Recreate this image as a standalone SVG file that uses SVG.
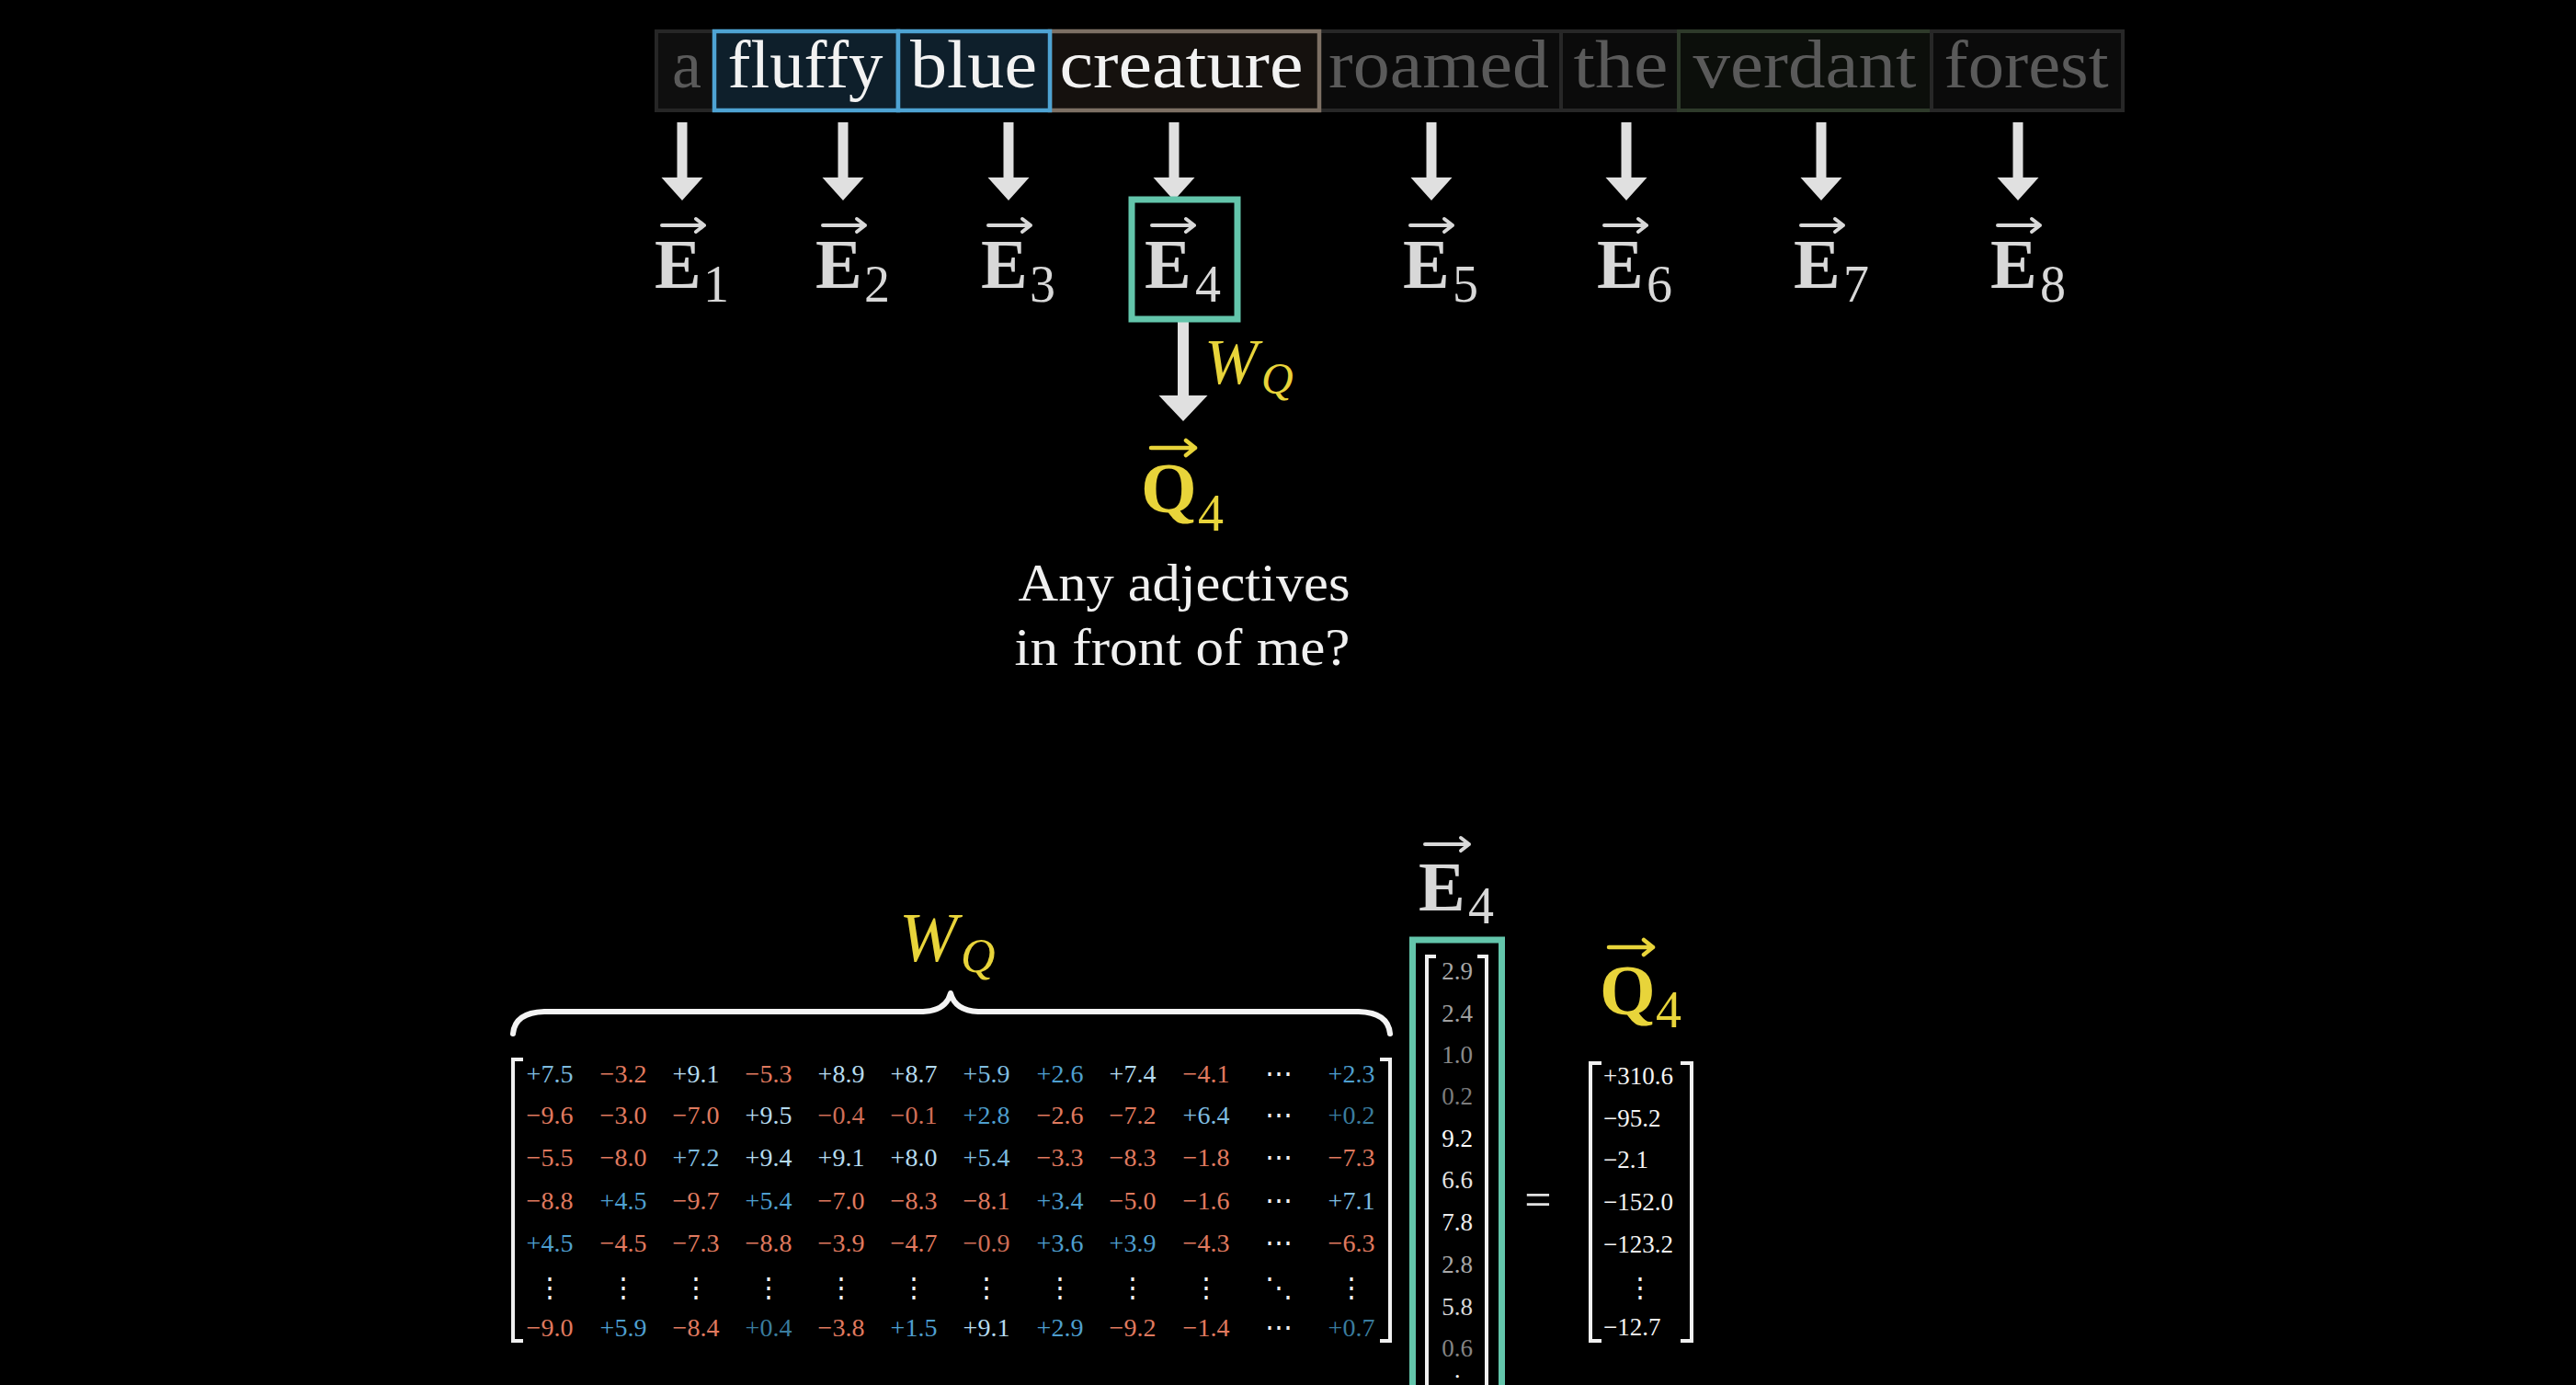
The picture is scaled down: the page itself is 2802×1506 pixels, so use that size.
<svg xmlns="http://www.w3.org/2000/svg" width="2802" height="1506" viewBox="0 0 2802 1506">
<style>
text{font-family:"Liberation Serif","DejaVu Serif",serif}
.w{font-size:74px;text-anchor:middle}
.wg{fill:#5a5a5a}
.ww{fill:#f2f2f2}
.E{font-size:76px;font-weight:bold;fill:#d8d8d8}
.Es{font-size:56px;fill:#d8d8d8}
.va{fill:none;stroke:#d8d8d8;stroke-width:4;stroke-linecap:round;stroke-linejoin:round}
.vy{fill:none;stroke:#e8d43a;stroke-width:4.5;stroke-linecap:round;stroke-linejoin:round}
.Q{font-size:78px;font-weight:bold;fill:#e8d43a}
.Qs{font-size:56px;fill:#e8d43a}
.Wi{font-style:italic;fill:#e8d43a}
.arr{fill:#e0e0e0}
.note{font-size:58px;fill:#f0f0f0;text-anchor:middle}
.n{font-size:28px;text-anchor:middle}
.p{fill:#7fbde0}.pp{fill:#b5dbef}.pl{fill:#4e9fcf}.pd{fill:#3a7c9e}
.m{fill:#e07a5f}.md{fill:#cf6e57}
.dot{font-family:"DejaVu Serif",serif;fill:#f0f0f0;text-anchor:middle}
.br{fill:none;stroke:#f0f0f0;stroke-width:4}
.teal{fill:none;stroke:#63c5ab;stroke-width:7}
.ev{font-size:27px;text-anchor:middle}
.qv{font-size:27px;fill:#f4f4f4}
</style>
<rect width="2802" height="1506" fill="#000"/>

<g id="tokens">
<g id="tok-a"><rect x="714" y="34" width="63" height="86" fill="#0f0f0f" stroke="#262626" stroke-width="4"/><text class="w wg" x="747" y="95" textLength="32" lengthAdjust="spacingAndGlyphs">a</text></g>
<g id="tok-roamed"><rect x="1435" y="34" width="263" height="86" fill="#0b0b0b" stroke="#272727" stroke-width="4"/><text class="w wg" x="1565" y="95" textLength="240" lengthAdjust="spacingAndGlyphs">roamed</text></g>
<g id="tok-the"><rect x="1698" y="34" width="128" height="86" fill="#0b0b0b" stroke="#272727" stroke-width="4"/><text class="w wg" x="1763" y="95" textLength="103" lengthAdjust="spacingAndGlyphs">the</text></g>
<g id="tok-verdant"><rect x="1826" y="34" width="275" height="86" fill="#0c0f0b" stroke="#2e3a2a" stroke-width="4"/><text class="w wg" x="1963" y="95" textLength="243" lengthAdjust="spacingAndGlyphs">verdant</text></g>
<g id="tok-forest"><rect x="2101" y="34" width="208" height="86" fill="#0b0b0b" stroke="#272727" stroke-width="4"/><text class="w wg" x="2204" y="95" textLength="179" lengthAdjust="spacingAndGlyphs">forest</text></g>
<g id="tok-creature"><rect x="1142" y="34" width="293" height="86" fill="#15110e" stroke="#7d7064" stroke-width="4.5"/><text class="w ww" x="1285" y="95" textLength="265" lengthAdjust="spacingAndGlyphs">creature</text></g>
<g id="tok-fluffy"><rect x="777" y="34" width="200" height="86" fill="#0e1f2b" stroke="#4ea3d3" stroke-width="4.5"/><text class="w ww" x="876" y="95" textLength="169" lengthAdjust="spacingAndGlyphs">fluffy</text></g>
<g id="tok-blue"><rect x="977" y="34" width="165" height="86" fill="#0e1f2b" stroke="#4ea3d3" stroke-width="4.5"/><text class="w ww" x="1059" y="95" textLength="138" lengthAdjust="spacingAndGlyphs">blue</text></g>
</g>

<g id="connectors">
<polygon class="arr" points="736.5,133 747.5,133 747.5,193 764.5,193 742,218 719.5,193 736.5,193"/>
<polygon class="arr" points="911.5,133 922.5,133 922.5,193 939.5,193 917,218 894.5,193 911.5,193"/>
<polygon class="arr" points="1091.5,133 1102.5,133 1102.5,193 1119.5,193 1097,218 1074.5,193 1091.5,193"/>
<polygon class="arr" points="1271.5,133 1282.5,133 1282.5,193 1299.5,193 1277,218 1254.5,193 1271.5,193"/>
<polygon class="arr" points="1551.5,133 1562.5,133 1562.5,193 1579.5,193 1557,218 1534.5,193 1551.5,193"/>
<polygon class="arr" points="1763.5,133 1774.5,133 1774.5,193 1791.5,193 1769,218 1746.5,193 1763.5,193"/>
<polygon class="arr" points="1975.5,133 1986.5,133 1986.5,193 2003.5,193 1981,218 1958.5,193 1975.5,193"/>
<polygon class="arr" points="2189.5,133 2200.5,133 2200.5,193 2217.5,193 2195,218 2172.5,193 2189.5,193"/>
<polygon class="arr" points="1281,348 1293,348 1293,430 1313.5,430 1287,458 1260.5,430 1281,430"/>
<g id="wq-label"><text class="Wi" x="1310" y="417" font-size="70">W</text><text class="Wi" x="1372" y="428" font-size="48">Q</text></g>
</g>

<g id="embeddings">
<g id="E1"><path class="va" d="M720,245H766M757,238L766,245L757,252"/><text class="E" x="712" y="313">E</text><text class="Es" x="765" y="328">1</text></g>
<g id="E2"><path class="va" d="M895,245H941M932,238L941,245L932,252"/><text class="E" x="887" y="313">E</text><text class="Es" x="940" y="328">2</text></g>
<g id="E3"><path class="va" d="M1075,245H1121M1112,238L1121,245L1112,252"/><text class="E" x="1067" y="313">E</text><text class="Es" x="1120" y="328">3</text></g>
<g id="E4"><rect class="teal" x="1231" y="217" width="115" height="130" stroke-width="6"/><path class="va" d="M1253,245H1299M1290,238L1299,245L1290,252"/><text class="E" x="1245" y="313">E</text><text class="Es" x="1300" y="328">4</text></g>
<g id="E5"><path class="va" d="M1534,245H1580M1571,238L1580,245L1571,252"/><text class="E" x="1526" y="313">E</text><text class="Es" x="1580" y="328">5</text></g>
<g id="E6"><path class="va" d="M1745,245H1791M1782,238L1791,245L1782,252"/><text class="E" x="1737" y="313">E</text><text class="Es" x="1791" y="328">6</text></g>
<g id="E7"><path class="va" d="M1959,245H2005M1996,238L2005,245L1996,252"/><text class="E" x="1951" y="313">E</text><text class="Es" x="2005" y="328">7</text></g>
<g id="E8"><path class="va" d="M2173,245H2219M2210,238L2219,245L2210,252"/><text class="E" x="2165" y="313">E</text><text class="Es" x="2219" y="328">8</text></g>
</g>

<g id="Q4-top"><path class="vy" d="M1252,487H1300M1290,479L1300,487L1290,495"/><text class="Q" x="1241" y="557">Q</text><text class="Qs" x="1303" y="577">4</text></g>

<g id="note"><text class="note" x="1288" y="653" textLength="361" lengthAdjust="spacingAndGlyphs">Any adjectives</text><text class="note" x="1286" y="723" textLength="365" lengthAdjust="spacingAndGlyphs">in front of me?</text></g>

<g id="wq-matrix">
<g id="wq-brace-label"><text class="Wi" x="978" y="1045" font-size="76">W</text><text class="Wi" x="1045" y="1057" font-size="52">Q</text></g>
<path id="brace" d="M558,1124 Q560,1101 592,1100 L1004,1100 Q1029,1099 1034,1080 Q1039,1099 1064,1100 L1478,1100 Q1510,1101 1512,1124" fill="none" stroke="#f4f4f4" stroke-width="6" stroke-linecap="round" stroke-linejoin="round"/>
<path class="br" d="M569,1152H558V1458H569"/>
<path class="br" d="M1501,1152H1512V1458H1501"/>
<g id="row1">
<text class="n p" x="598" y="1177">+7.5</text><text class="n m" x="678" y="1177">−3.2</text><text class="n pp" x="757" y="1177">+9.1</text><text class="n m" x="836" y="1177">−5.3</text><text class="n pp" x="915" y="1177">+8.9</text><text class="n pp" x="994" y="1177">+8.7</text><text class="n p" x="1073" y="1177">+5.9</text><text class="n pl" x="1153" y="1177">+2.6</text><text class="n pp" x="1232" y="1177">+7.4</text><text class="n m" x="1312" y="1177">−4.1</text><text class="dot" x="1391" y="1177" font-size="30">⋯</text><text class="n pl" x="1470" y="1177">+2.3</text>
</g>
<g id="row2">
<text class="n m" x="598" y="1222">−9.6</text><text class="n m" x="678" y="1222">−3.0</text><text class="n m" x="757" y="1222">−7.0</text><text class="n pp" x="836" y="1222">+9.5</text><text class="n md" x="915" y="1222">−0.4</text><text class="n md" x="994" y="1222">−0.1</text><text class="n pl" x="1073" y="1222">+2.8</text><text class="n m" x="1153" y="1222">−2.6</text><text class="n m" x="1232" y="1222">−7.2</text><text class="n p" x="1312" y="1222">+6.4</text><text class="dot" x="1391" y="1222" font-size="30">⋯</text><text class="n pd" x="1470" y="1222">+0.2</text>
</g>
<g id="row3">
<text class="n m" x="598" y="1268">−5.5</text><text class="n m" x="678" y="1268">−8.0</text><text class="n p" x="757" y="1268">+7.2</text><text class="n pp" x="836" y="1268">+9.4</text><text class="n pp" x="915" y="1268">+9.1</text><text class="n pp" x="994" y="1268">+8.0</text><text class="n p" x="1073" y="1268">+5.4</text><text class="n m" x="1153" y="1268">−3.3</text><text class="n m" x="1232" y="1268">−8.3</text><text class="n m" x="1312" y="1268">−1.8</text><text class="dot" x="1391" y="1268" font-size="30">⋯</text><text class="n m" x="1470" y="1268">−7.3</text>
</g>
<g id="row4">
<text class="n m" x="598" y="1315">−8.8</text><text class="n pl" x="678" y="1315">+4.5</text><text class="n m" x="757" y="1315">−9.7</text><text class="n pl" x="836" y="1315">+5.4</text><text class="n m" x="915" y="1315">−7.0</text><text class="n m" x="994" y="1315">−8.3</text><text class="n m" x="1073" y="1315">−8.1</text><text class="n pl" x="1153" y="1315">+3.4</text><text class="n m" x="1232" y="1315">−5.0</text><text class="n m" x="1312" y="1315">−1.6</text><text class="dot" x="1391" y="1315" font-size="30">⋯</text><text class="n p" x="1470" y="1315">+7.1</text>
</g>
<g id="row5">
<text class="n pl" x="598" y="1361">+4.5</text><text class="n m" x="678" y="1361">−4.5</text><text class="n m" x="757" y="1361">−7.3</text><text class="n m" x="836" y="1361">−8.8</text><text class="n m" x="915" y="1361">−3.9</text><text class="n m" x="994" y="1361">−4.7</text><text class="n md" x="1073" y="1361">−0.9</text><text class="n pl" x="1153" y="1361">+3.6</text><text class="n pl" x="1232" y="1361">+3.9</text><text class="n m" x="1312" y="1361">−4.3</text><text class="dot" x="1391" y="1361" font-size="30">⋯</text><text class="n m" x="1470" y="1361">−6.3</text>
</g>
<g id="row6">
<text class="dot" x="598" y="1410" font-size="30">⋮</text><text class="dot" x="678" y="1410" font-size="30">⋮</text><text class="dot" x="757" y="1410" font-size="30">⋮</text><text class="dot" x="836" y="1410" font-size="30">⋮</text><text class="dot" x="915" y="1410" font-size="30">⋮</text><text class="dot" x="994" y="1410" font-size="30">⋮</text><text class="dot" x="1073" y="1410" font-size="30">⋮</text><text class="dot" x="1153" y="1410" font-size="30">⋮</text><text class="dot" x="1232" y="1410" font-size="30">⋮</text><text class="dot" x="1312" y="1410" font-size="30">⋮</text><text class="dot" x="1391" y="1410" font-size="30">⋱</text><text class="dot" x="1470" y="1410" font-size="30">⋮</text>
</g>
<g id="row7">
<text class="n m" x="598" y="1453">−9.0</text><text class="n pl" x="678" y="1453">+5.9</text><text class="n m" x="757" y="1453">−8.4</text><text class="n pd" x="836" y="1453">+0.4</text><text class="n m" x="915" y="1453">−3.8</text><text class="n pl" x="994" y="1453">+1.5</text><text class="n pp" x="1073" y="1453">+9.1</text><text class="n pl" x="1153" y="1453">+2.9</text><text class="n m" x="1232" y="1453">−9.2</text><text class="n m" x="1312" y="1453">−1.4</text><text class="dot" x="1391" y="1453" font-size="30">⋯</text><text class="n pd" x="1470" y="1453">+0.7</text>
</g>
</g>

<g id="e4-vector">
<path class="va" d="M1550,918H1598M1589,911L1598,918L1589,925"/>
<text class="E" x="1543" y="990">E</text><text class="Es" x="1597" y="1004">4</text>
<path class="teal" d="M1536.5,1530V1022H1633.5V1530"/>
<path class="br" d="M1562,1040H1552V1530"/>
<path class="br" d="M1607,1040H1617V1530"/>
<text class="ev" x="1585" y="1065" fill="#a8a8a8">2.9</text>
<text class="ev" x="1585" y="1111" fill="#a0a0a0">2.4</text>
<text class="ev" x="1585" y="1156" fill="#8a8a8a">1.0</text>
<text class="ev" x="1585" y="1201" fill="#7c7c7c">0.2</text>
<text class="ev" x="1585" y="1247" fill="#ffffff">9.2</text>
<text class="ev" x="1585" y="1292" fill="#e2e2e2">6.6</text>
<text class="ev" x="1585" y="1338" fill="#eeeeee">7.8</text>
<text class="ev" x="1585" y="1384" fill="#a8a8a8">2.8</text>
<text class="ev" x="1585" y="1430" fill="#d8d8d8">5.8</text>
<text class="ev" x="1585" y="1475" fill="#858585">0.6</text>
<text class="dot" x="1585" y="1505" font-size="24">⋅</text>
</g>

<g id="equals"><text x="1673" y="1322" font-size="52" fill="#e0e0e0" text-anchor="middle">=</text></g>

<g id="q4-vector">
<path class="vy" d="M1750,1030H1798M1788,1022L1798,1030L1788,1038"/>
<text class="Q" x="1740" y="1103">Q</text><text class="Qs" x="1801" y="1117">4</text>
<path class="br" d="M1742,1156H1730V1458H1742"/>
<path class="br" d="M1828,1156H1840V1458H1828"/>
<text class="qv" x="1744" y="1179">+310.6</text>
<text class="qv" x="1744" y="1225">−95.2</text>
<text class="qv" x="1744" y="1270">−2.1</text>
<text class="qv" x="1744" y="1316">−152.0</text>
<text class="qv" x="1744" y="1362">−123.2</text>
<text class="dot" x="1784" y="1410" font-size="30">⋮</text>
<text class="qv" x="1744" y="1452">−12.7</text>
</g>
</svg>
